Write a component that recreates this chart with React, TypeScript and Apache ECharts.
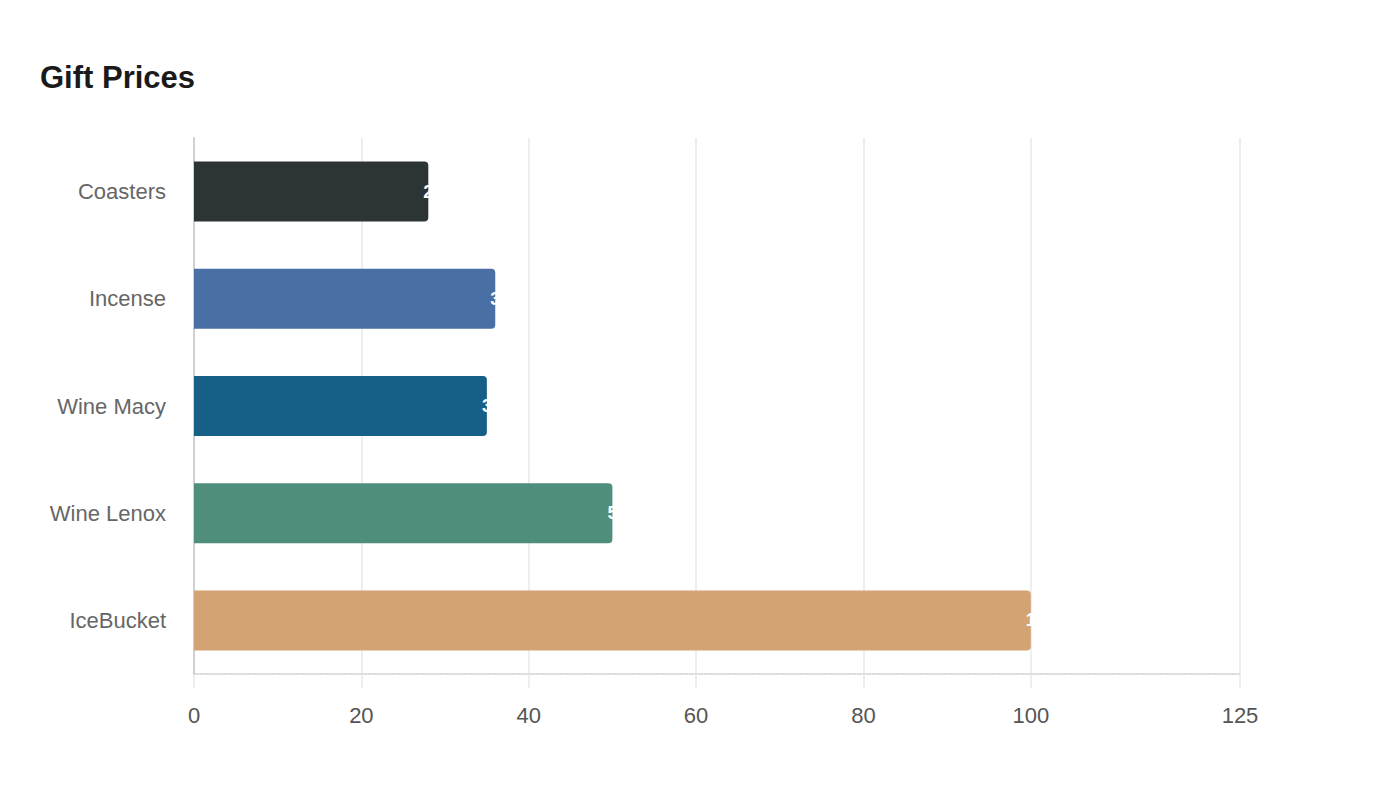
import React, { useEffect, useRef } from "react";
import * as echarts from "echarts";

const categories = ["Coasters", "Incense", "Wine Macy", "Wine Lenox", "IceBucket"];
const prices = [28, 36, 35, 50, 100];
const colors = ["#2d3436", "#4a6fa5", "#166088", "#4f8d7c", "#d4a373"];
const xTickValues = [0, 20, 40, 60, 80, 100, 125];
const xMax = 125;

export default function App() {
  const ref = useRef<HTMLDivElement>(null);
  useEffect(() => {
    if (!ref.current) return;
    const chart = echarts.init(ref.current, undefined, { renderer: "svg" });
    chart.setOption({
      animation: false,
      backgroundColor: "#ffffff",
      textStyle: { fontFamily: "Liberation Sans, Arial, sans-serif" },
      title: {
        text: "Gift Prices",
        left: 35,
        top: 57,
        textStyle: { fontSize: 31, fontWeight: "bold", color: "#1a1a1a", fontFamily: "Liberation Sans, Arial, sans-serif" },
      },
      grid: { left: 194, right: 160, top: 138, bottom: 126, containLabel: false },
      xAxis: {
        type: "value",
        min: 0,
        max: xMax,
        interval: 20,
        axisLine: { show: true, lineStyle: { type: "dotted", color: "#cccccc", width: 1.5 } },
        axisTick: { show: true, length: 14, customValues: xTickValues, lineStyle: { color: "#e8e8e8", width: 1.5 } },
        splitLine: { show: true, lineStyle: { color: "#e8e8e8", width: 1.5 } },
        axisLabel: { fontSize: 22, color: "#555555", margin: 30, customValues: xTickValues },
      },
      yAxis: {
        type: "category",
        inverse: true,
        data: categories,
        axisLine: { show: true, lineStyle: { color: "#d0d0d0", width: 2 } },
        axisTick: { show: false },
        axisLabel: { fontSize: 22, color: "#666666", margin: 28 },
      },
      series: [
        {
          type: "bar",
          barWidth: "56%",
          data: prices.map((v, i) => ({ value: v, itemStyle: { color: colors[i] } })),
          itemStyle: { borderRadius: [0, 4, 4, 0] },
          label: {
            show: true,
            position: "right",
            distance: -5,
            color: "#ffffff",
            fontSize: 18,
            fontWeight: "bold",
          },
        },
      ],
    });
    return () => chart.dispose();
  }, []);
  return <div ref={ref} style={{ position: "absolute", left: 0, top: 0, width: 1400, height: 800 }} />;
}
